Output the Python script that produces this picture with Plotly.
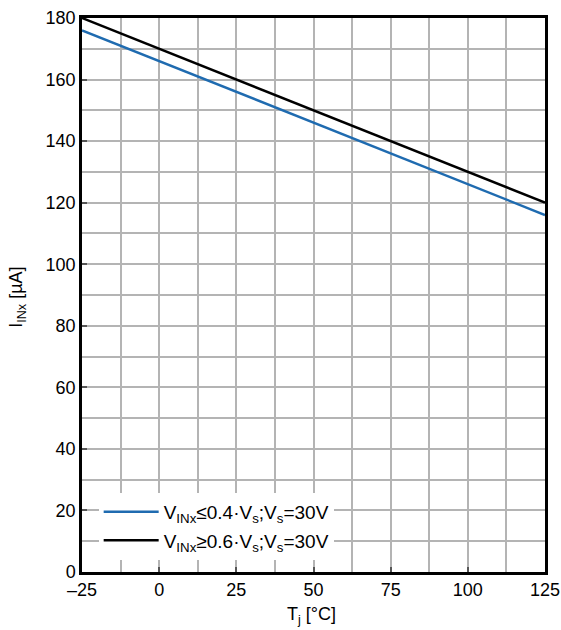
import plotly.graph_objects as go

tj = [-25, -12.5, 0, 12.5, 25, 37.5, 50, 62.5, 75, 87.5, 100, 112.5, 125]
i_low = [176, 171, 166, 161, 156.2, 151, 146, 141.1, 136.2, 131.2, 126.2, 121.2, 116]
i_high = [180, 175, 170, 165.2, 160.2, 155.2, 150.1, 145.1, 140.1, 135.1, 130, 125, 120]
names = ["V<sub>INx</sub>≤0.4·V<sub>s</sub>;V<sub>s</sub>=30V",
         "V<sub>INx</sub>≥0.6·V<sub>s</sub>;V<sub>s</sub>=30V"]
x_title = "T<sub>j</sub> [°C]"
y_title = "I<sub>INx</sub> [µA]"

fig = go.Figure()
fig.add_trace(go.Scatter(x=tj, y=i_low, mode="lines", name=names[0], legendgroup="a",
                         line=dict(color="#1f6bb0", width=2.5)))
fig.add_trace(go.Scatter(x=tj, y=i_high, mode="lines", name=names[1], legendgroup="b",
                         line=dict(color="#000000", width=2.5)))

font = "Liberation Sans, Arial, sans-serif"
axis_common = dict(
    showline=True, linecolor="black", linewidth=2.5, mirror=True,
    showgrid=True, gridcolor="#b4b4b4", gridwidth=1.5,
    ticks="inside", ticklen=5, tickcolor="#555", tickwidth=1.5,
    zeroline=False, automargin=False,
    tickfont=dict(family=font, size=18, color="black"),
)
fig.update_xaxes(range=[-25, 125],
                 tickvals=[-25, 0, 25, 50, 75, 100, 125],
                 ticktext=["–25", "0", "25", "50", "75", "100", "125"],
                 minor=dict(dtick=12.5, tick0=-25, showgrid=True, gridcolor="#b4b4b4", gridwidth=1.5),
                 **axis_common)
fig.update_yaxes(range=[0, 180], dtick=20, tick0=0,
                 minor=dict(dtick=10, showgrid=True, gridcolor="#b4b4b4", gridwidth=1.5),
                 **axis_common)

fig.update_layout(
    width=561, height=630,
    margin=dict(l=82, r=16, t=18, b=58, autoexpand=False),
    plot_bgcolor="white", paper_bgcolor="white",
    font=dict(family=font, size=18, color="black"),
    showlegend=True,
    legend=dict(x=0.036, y=0.022, xanchor="left", yanchor="bottom",
                bgcolor="white", borderwidth=0, tracegroupgap=1, itemwidth=55,
                font=dict(family=font, size=19, color="black")),
    annotations=[
        dict(text=x_title, xref="paper", yref="paper", x=0.495, y=0, yshift=-30,
             xanchor="center", yanchor="top", showarrow=False,
             font=dict(family=font, size=18, color="black")),
        dict(text=y_title, xref="paper", yref="paper", x=0, y=0.495, xshift=-64,
             xanchor="center", yanchor="middle", textangle=-90, showarrow=False,
             font=dict(family=font, size=18, color="black")),
    ],
)
fig.write_html("out.html", config={"displayModeBar": False},
               post_script="document.body.style.margin='0';document.body.style.overflow='hidden';")
